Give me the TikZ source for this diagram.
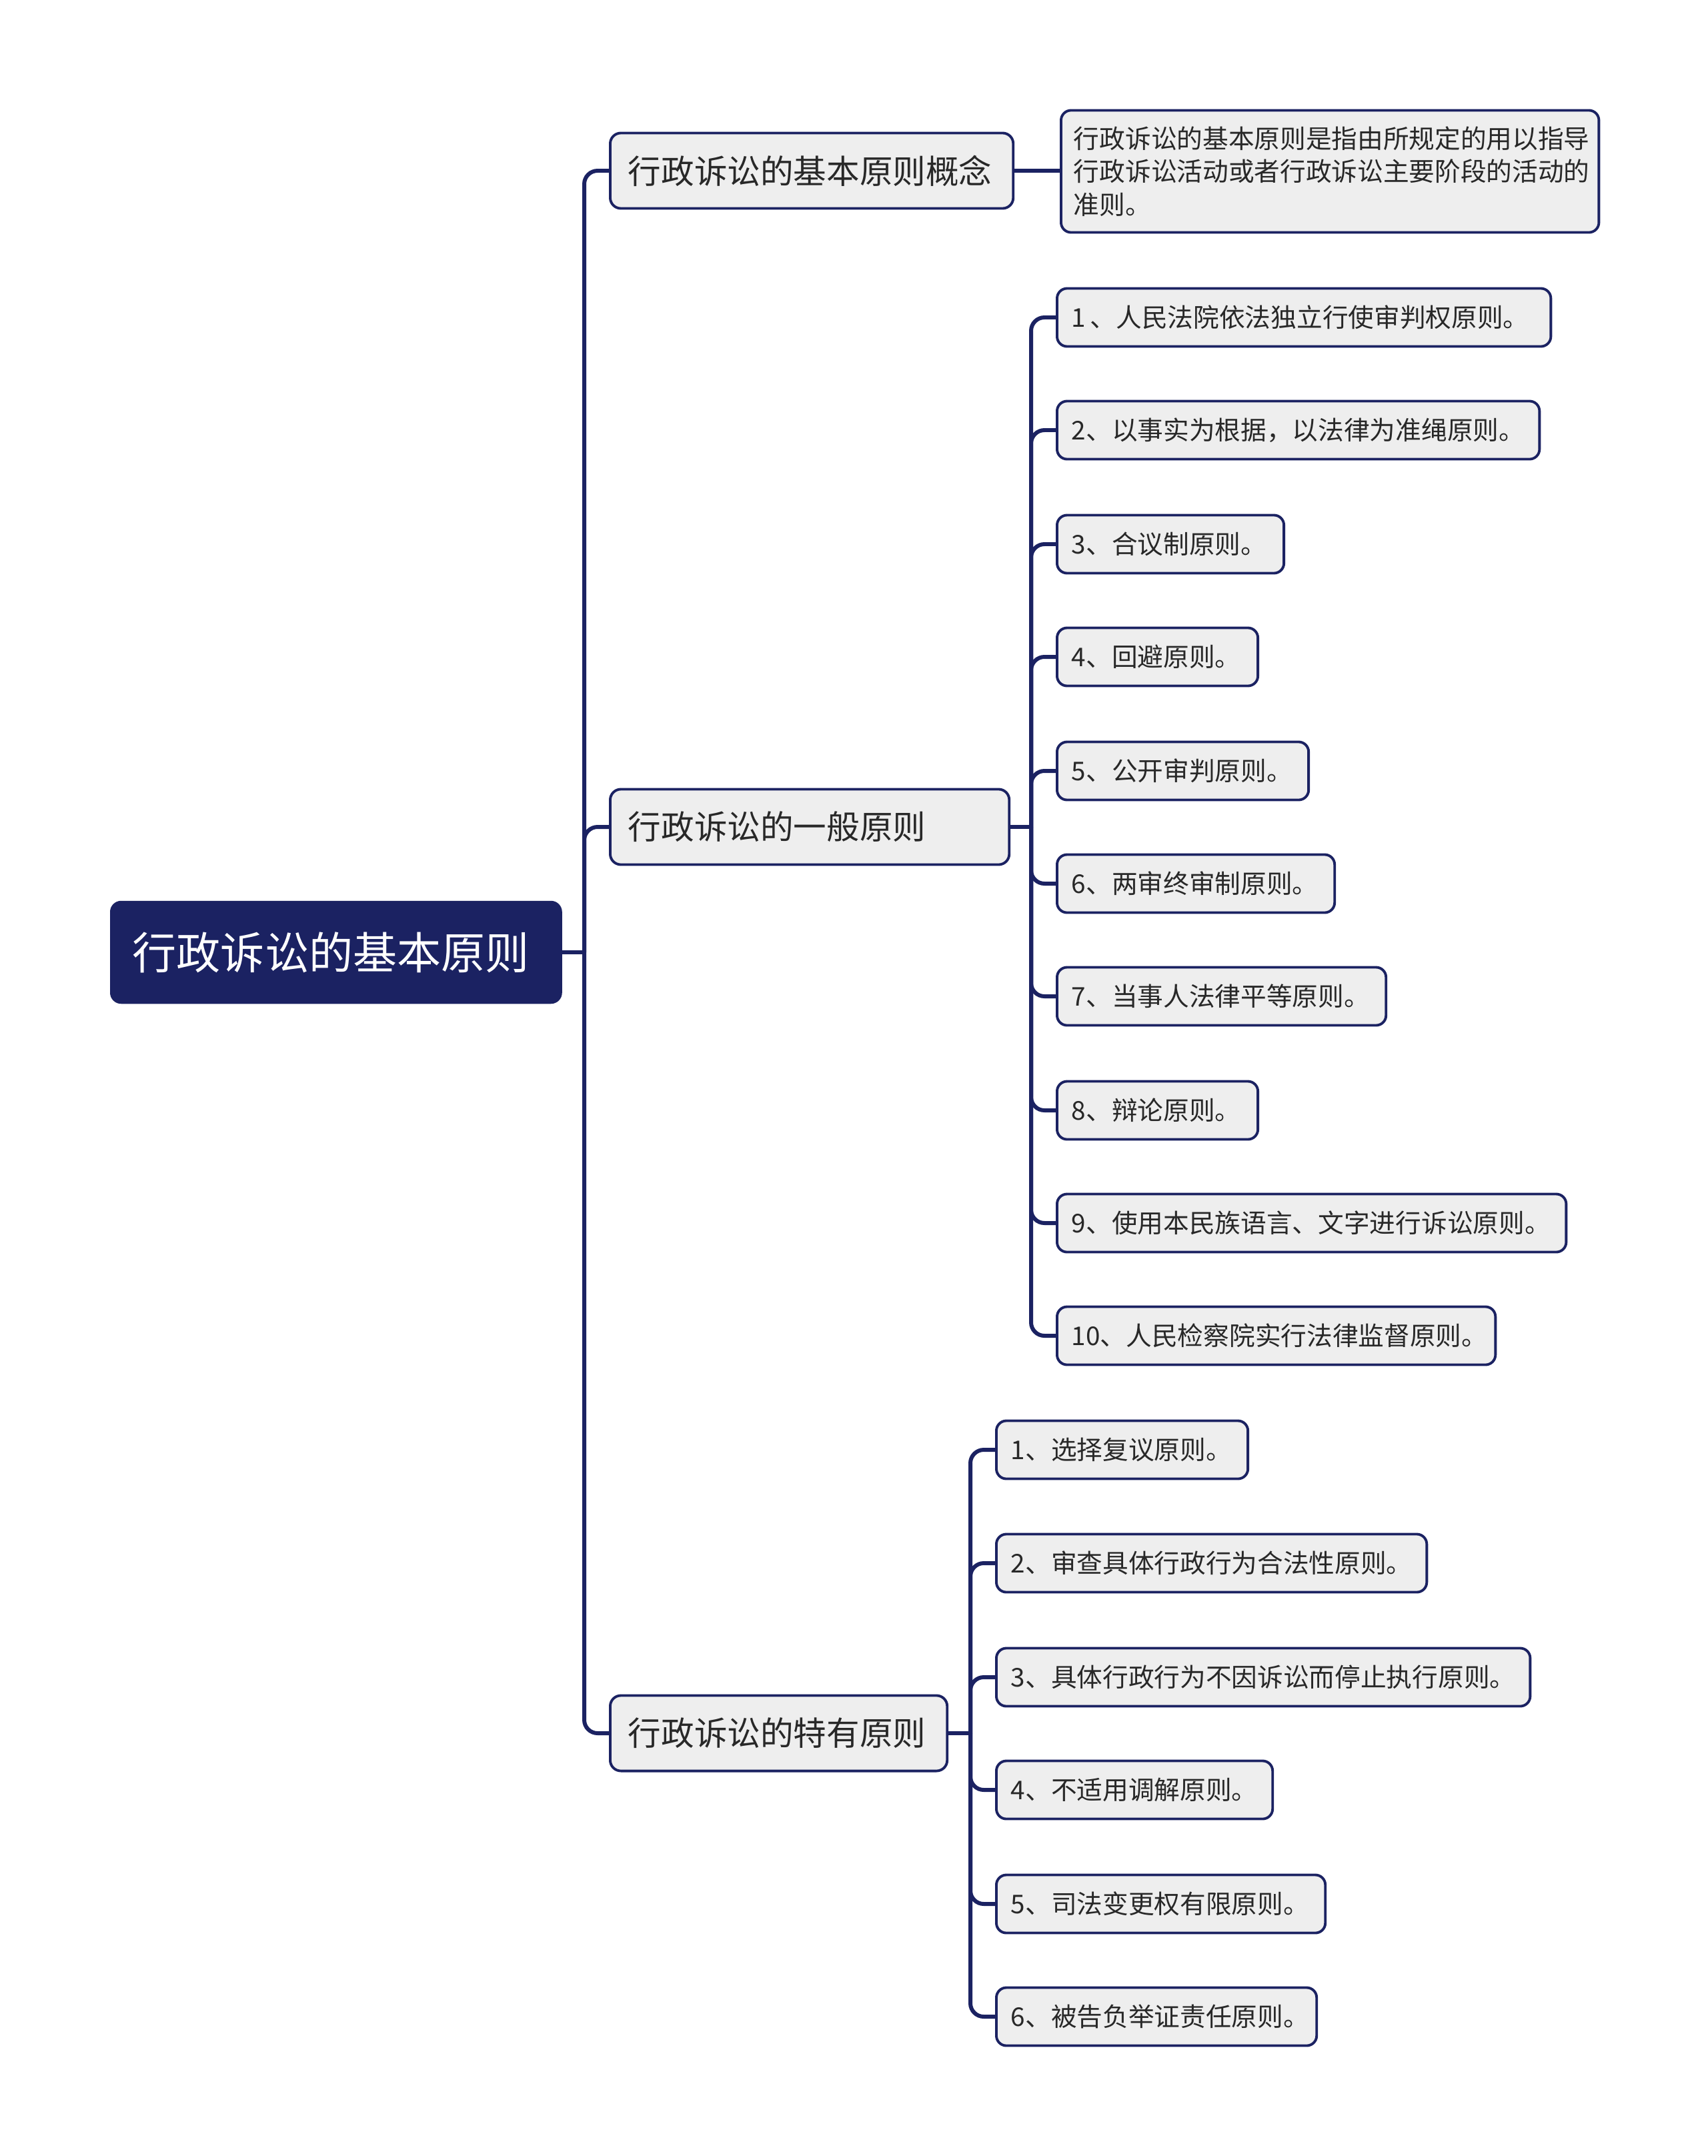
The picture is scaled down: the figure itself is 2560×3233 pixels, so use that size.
\documentclass[tikz,border=0pt]{standalone}
\usepackage{fontspec}
\setmainfont{Noto Sans CJK SC}
\usepackage{tikz}
\usetikzlibrary{positioning}
\definecolor{Navy}{RGB}{27,34,98}
\definecolor{BoxGray}{RGB}{238,238,238}
\definecolor{TxtGray}{RGB}{40,40,40}
\tikzset{
  topic/.style={rounded corners=0.16cm,fill=Navy,draw=Navy,text=white,anchor=west,align=left,
                minimum height=1.53cm,inner xsep=0.33cm,font=\fontsize{18.8}{22}\selectfont},
  sub/.style={rounded corners=0.16cm,fill=BoxGray,draw=Navy,line width=1.1pt,text=TxtGray,
              anchor=west,align=left,minimum height=1.13cm,inner xsep=0.27cm,
              font=\fontsize{14.1}{17}\selectfont},
  leaf/.style={rounded corners=0.15cm,fill=BoxGray,draw=Navy,line width=1.1pt,text=TxtGray,
               anchor=west,align=left,minimum height=0.87cm,inner xsep=0.22cm,
               font=\fontsize{11}{14}\selectfont},
  note/.style={leaf,inner xsep=0.19cm,inner ysep=0.24cm,font=\fontsize{11}{14.1}\selectfont},
  link/.style={draw=Navy,line width=1.7pt,rounded corners=0.2cm},
}

\begin{document}
\begin{tikzpicture}[x=0.01cm,y=-0.01cm]
  \useasboundingbox (0,0) rectangle (2560,3233);

  \node[topic,text width=6.10cm] (root) at (165,1428) {行政诉讼的基本原则};

  \node[sub,text width=5.50cm] (concept) at (913,256)  {行政诉讼的基本原则概念};
  \node[sub,text width=5.44cm] (general) at (913,1240) {行政诉讼的一般原则};
  \node[sub,text width=4.51cm] (special) at (913,2599) {行政诉讼的特有原则};

  \node[note,text width=7.68cm] (def) at (1589,257)
  {行政诉讼的基本原则是指由所规定的用以指导\\
   行政诉讼活动或者行政诉讼主要阶段的活动的\\
   准则。};

  \node[leaf,text width=6.96cm] (g1)  at (1583,476)  {1\,、人民法院依法独立行使审判权原则。};
  \node[leaf,text width=6.79cm] (g2)  at (1583,645)  {2、以事实为根据，以法律为准绳原则。};
  \node[leaf,text width=2.96cm] (g3)  at (1583,816)  {3、合议制原则。};
  \node[leaf,text width=2.57cm] (g4)  at (1583,985)  {4、回避原则。};
  \node[leaf,text width=3.33cm] (g5)  at (1583,1156) {5、公开审判原则。};
  \node[leaf,text width=3.72cm] (g6)  at (1583,1325) {6、两审终审制原则。};
  \node[leaf,text width=4.49cm] (g7)  at (1583,1494) {7、当事人法律平等原则。};
  \node[leaf,text width=2.57cm] (g8)  at (1583,1665) {8、辩论原则。};
  \node[leaf,text width=7.19cm] (g9)  at (1583,1834) {9、使用本民族语言、文字进行诉讼原则。};
  \node[leaf,text width=6.13cm] (g10) at (1583,2003) {10、人民检察院实行法律监督原则。};

  \node[leaf,text width=3.33cm] (s1) at (1492,2174) {1、选择复议原则。};
  \node[leaf,text width=6.01cm] (s2) at (1492,2344) {2、审查具体行政行为合法性原则。};
  \node[leaf,text width=7.56cm] (s3) at (1492,2515) {3、具体行政行为不因诉讼而停止执行原则。};
  \node[leaf,text width=3.70cm] (s4) at (1492,2684) {4、不适用调解原则。};
  \node[leaf,text width=4.49cm] (s5) at (1492,2855) {5、司法变更权有限原则。};
  \node[leaf,text width=4.36cm] (s6) at (1492,3024) {6、被告负举证责任原则。};

  \coordinate (rt) at (876,1428);
  \coordinate (gt) at (1546,1240);
  \coordinate (st) at (1455,2599);

  \draw[link] (root.east) -- (rt);
  \draw[link] (rt) |- (concept.west);
  \draw[link] (rt) |- (general.west);
  \draw[link] (rt) |- (special.west);

  \draw[link] (concept.east) -- (concept.east -| def.west);

  \draw[link] (general.east) -- (gt);
  \draw[link] (gt) |- (g1.west);
  \draw[link] (gt) |- (g2.west);
  \draw[link] (gt) |- (g3.west);
  \draw[link] (gt) |- (g4.west);
  \draw[link] (gt) |- (g5.west);
  \draw[link] (gt) |- (g6.west);
  \draw[link] (gt) |- (g7.west);
  \draw[link] (gt) |- (g8.west);
  \draw[link] (gt) |- (g9.west);
  \draw[link] (gt) |- (g10.west);

  \draw[link] (special.east) -- (st);
  \draw[link] (st) |- (s1.west);
  \draw[link] (st) |- (s2.west);
  \draw[link] (st) |- (s3.west);
  \draw[link] (st) |- (s4.west);
  \draw[link] (st) |- (s5.west);
  \draw[link] (st) |- (s6.west);
\end{tikzpicture}
\end{document}
